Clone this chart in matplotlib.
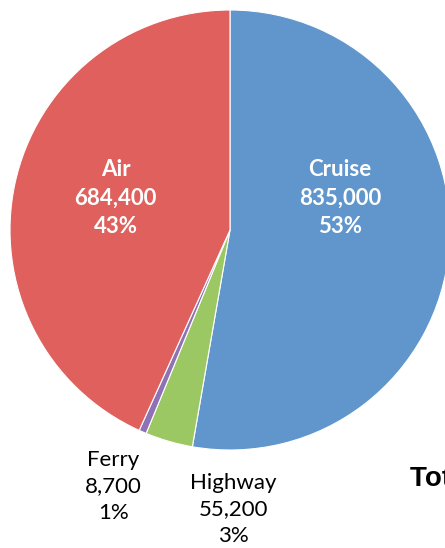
import matplotlib.pyplot as plt

# Visitors by mode of arrival
modes = ["Cruise", "Highway", "Ferry", "Air"]
visitors = [835000, 55200, 8700, 684400]
percents = ["53%", "3%", "1%", "43%"]
colors = ["#6096CC", "#9BC862", "#8E72B5", "#DF605C"]

plt.rcParams['font.family'] = ['Lato', 'DejaVu Sans']

fig = plt.figure(figsize=(4.45, 5.48), dpi=100)
# pie centred at (230, 230) px from top-left, radius 220 px
ax = fig.add_axes([10 / 445, 98 / 548, 440 / 445, 440 / 548])
wedges, _ = ax.pie(visitors, colors=colors, startangle=90, counterclock=False,
                   radius=1.0, wedgeprops=dict(edgecolor="white", linewidth=0.8))
for w in wedges:
    w.set_clip_on(False)
ax.set_xlim(-1, 1)
ax.set_ylim(-1, 1)
ax.set_aspect("equal")
ax.axis("off")

# label positions in pie radius units
label_pos = {"Cruise": (0.5, 0.145), "Air": (-0.52, 0.145),
             "Highway": (0.015, -1.27), "Ferry": (-0.53, -1.165)}
for name, val, pct in zip(modes, visitors, percents):
    x, y = label_pos[name]
    inside = name in ("Cruise", "Air")
    ax.text(x, y, "{}\n{:,}\n{}".format(name, val, pct), ha="center", va="center",
            fontsize=16, linespacing=1.42,
            color="white" if inside else "black",
            fontweight="bold" if inside else "normal", clip_on=False)

# total label, cut off by the right edge as in the source
fig.text(410 / 445, 1 - 479 / 548, "Total: {:,}".format(sum(visitors)),
         ha="left", va="center", fontsize=20, fontweight="bold",
         family=["Liberation Sans", "DejaVu Sans"])

fig.savefig("out.png", dpi=100)
